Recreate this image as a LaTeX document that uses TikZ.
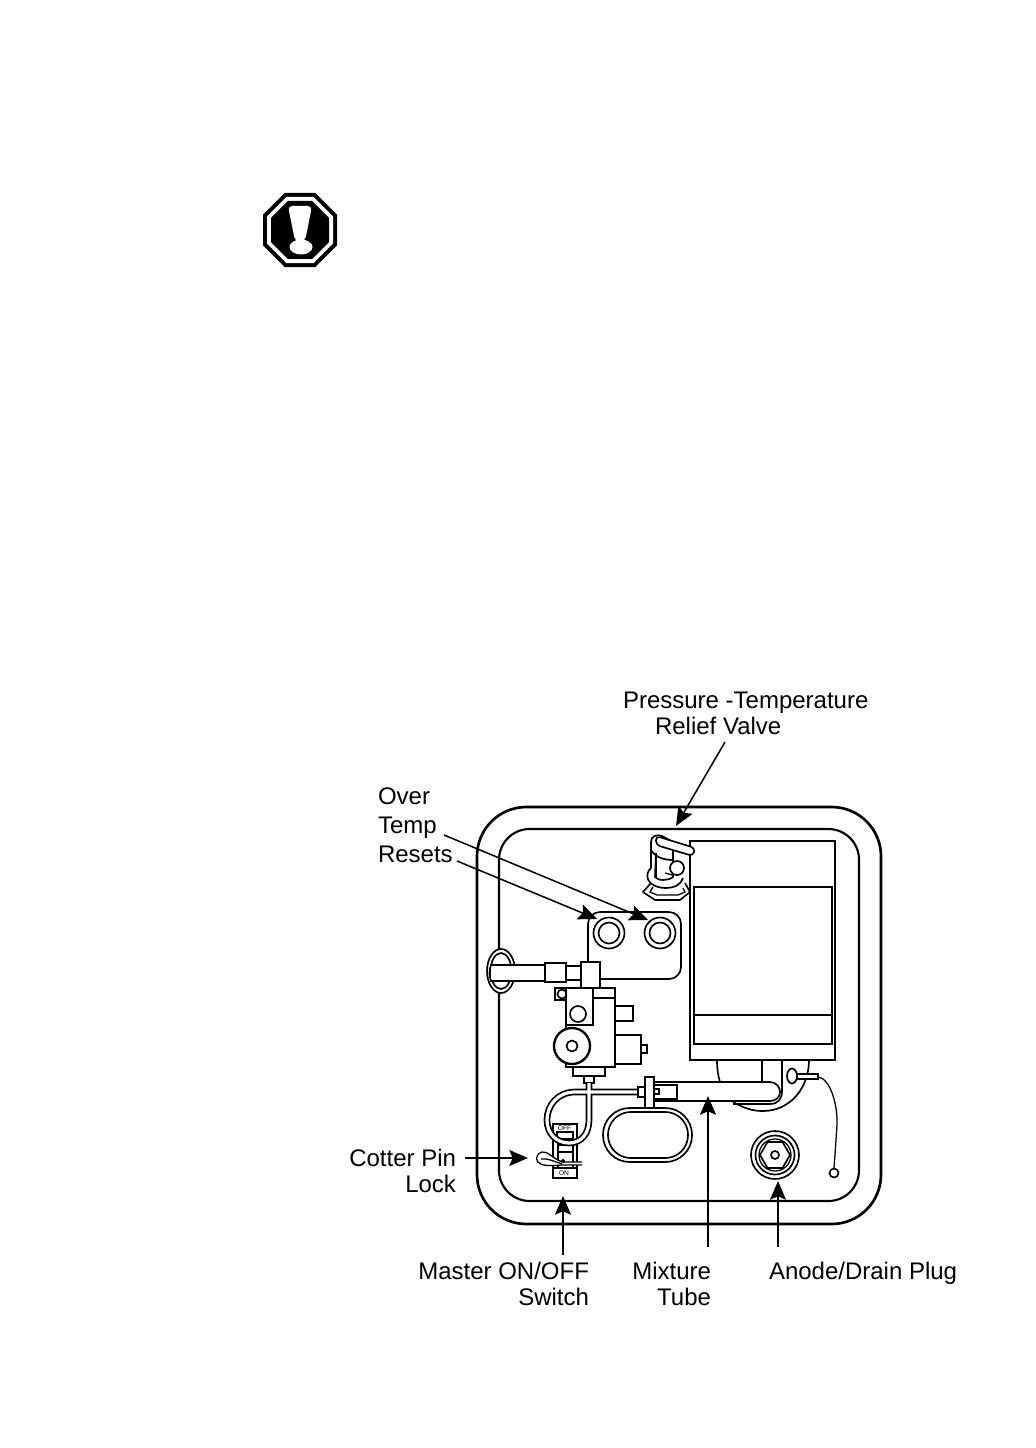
\documentclass[tikz,border=0pt]{standalone}
\usepackage{fontspec}
\setmainfont{Liberation Sans}
\usetikzlibrary{arrows.meta}
\tikzset{
  heavy/.style={line width=1.75pt,line join=miter},
  med/.style={line width=1.25pt},
  fine/.style={line width=0.95pt},
  callout/.style={line width=1.15pt,-{Stealth[length=14pt,width=12pt,inset=2.5pt]}},
  lbl/.style={inner sep=0pt,outer sep=0pt,font=\fontsize{18pt}{19.5pt}\selectfont},
  tiny/.style={inner sep=0pt,font=\fontsize{5pt}{5pt}\selectfont},
}
\begin{document}
\begin{tikzpicture}[x=0.75pt,y=-0.75pt]
\useasboundingbox (0,0) rectangle (1035,1448);
\fill[white] (0,0) rectangle (1035,1448);

% warning sign
\foreach \a/\c in {37/black,33/white,29/black}{
  \fill[\c] ({300-\a},{230-.414*\a}) -- ({300-.414*\a},{230-\a}) -- ({300+.414*\a},{230-\a}) -- ({300+\a},{230-.414*\a})
    -- ({300+\a},{230+.414*\a}) -- ({300+.414*\a},{230+\a}) -- ({300-.414*\a},{230+\a}) -- ({300-\a},{230+.414*\a}) -- cycle;
}
\fill[white,rounded corners=3pt] (288,206) -- (312,206) -- (305,241) -- (295,241) -- cycle;
\fill[white] (301,247) ellipse [x radius=11.5,y radius=7.5];

% housing
\draw[line width=2pt,rounded corners=37pt] (477,807) rectangle (881,1224);
\draw[line width=1.6pt,rounded corners=23pt] (499,829) rectangle (859,1201);

% oval hole and inlet tube
\fill[white] (501,971) ellipse [x radius=14,y radius=22];
\draw[med] (501,971) ellipse [x radius=14,y radius=22];
\draw[med] (501,971) ellipse [x radius=10.5,y radius=18];
\fill[white] (491,965) rectangle (545,981);
\draw[med] (545,965) -- (491,965) .. controls (489,970) and (489,976) .. (491,981) -- (545,981);

% reset panel
\draw[med,rounded corners=9pt] (588,962) -- (588,912) -- (681,912) -- (681,979) -- (600,979);
\foreach \x in {609,660}{
  \draw[med] (\x,933) circle [radius=15.5];
  \draw[med] (\x,933) circle [radius=10.5];
}
% fittings
\draw[heavy,fill=white] (545,963) rectangle (566,982);
\draw[med,fill=white] (566,966) rectangle (581,980);
\draw[heavy,fill=white] (581,962) rectangle (600,988);

% gas valve
\draw[heavy,fill=white] (555,988) rectangle (566,1000);
\draw[med] (562,994) circle [radius=4.5];
\draw[heavy,fill=white] (615,1006) rectangle (633,1021);
\draw[heavy,fill=white] (615,1035) rectangle (641,1064);
\draw[med,fill=white] (641,1045) rectangle (647,1053);
\draw[heavy,fill=white] (566,988) rectangle (615,1067);
\draw[heavy] (593,998) -- (615,998);
\draw[heavy] (566,1025) -- (593,1025) -- (593,988);
\draw[med] (578,1014) circle [radius=8];
\draw[heavy,fill=white] (572,1046) circle [radius=18];
\draw[med] (572,1046) circle [radius=5.5];
\draw[heavy,fill=white] (573,1067) rectangle (605,1076);
\draw[med,fill=white] (584,1076) rectangle (594,1083);

% tank
\draw[heavy] (690,841) rectangle (835,1060);
\draw[heavy] (694,887) rectangle (832,1044);
\draw[heavy] (694,1015) -- (832,1015);

% burner bowl and mixture tube
\draw[med] (717,1060) .. controls (717,1068) and (718,1076) .. (720,1082);
\draw[med] (733,1102) .. controls (745,1109) and (754,1111) .. (763,1111)
  .. controls (790,1111) and (809,1088) .. (809,1060);
\draw[med] (762,1060) -- (762,1082);
\draw[med] (782,1060) -- (782,1091) .. controls (782,1099) and (778,1104) .. (770,1104) -- (733,1104);
\draw[med] (654,1082) -- (770,1082) .. controls (776,1082) and (780,1087) .. (780,1092)
  .. controls (780,1097) and (776,1101) .. (770,1101) -- (654,1101);
\draw[med] (654,1085) rectangle (677,1099);
\draw[med] (654,1089) rectangle (659,1094);
\draw[med,fill=white] (645,1077) rectangle (654,1108);

% igniter and wire
\draw[med,fill=white] (792,1076) ellipse [x radius=5,y radius=7.5];
\draw[med,fill=white] (797,1074) rectangle (818,1079);
\draw[fine] (818,1077) .. controls (830,1078) and (838,1105) .. (837,1125) .. controls (836,1140) and (835,1155) .. (834,1168);
\draw[med] (834,1173) circle [radius=4.5];

% master switch
\draw[heavy] (553,1124) rectangle (577,1178);
\draw[med,fill=white] (557,1132) rectangle (573,1139);
\draw[fine] (558,1139) -- (558,1167);
\draw[fine] (573,1139) -- (573,1167);
\draw[fine] (558,1145) -- (573,1145);
\draw[fine] (558,1152) -- (573,1152);
\draw[med] (553,1168) -- (577,1168);
\node[tiny] (offtxt) at (564.5,1128) {OFF};
\node[tiny] (ontxt) at (564,1173.5) {ON};

% loop of pilot tube
\def\looptube{(638,1092) -- (575,1092) .. controls (558,1092) and (547,1105) .. (547,1120)
  .. controls (547,1134) and (557,1143) .. (569,1143) .. controls (581,1143) and (589,1134) .. (589,1120) -- (589,1083)}
\draw[line width=5pt] \looptube;
\draw[white,line width=2.4pt] \looptube;
\draw[med,fill=white] (638,1087) rectangle (645,1097);

% cotter pin
\draw[fine,fill=white] (582,1162) -- (562,1162) .. controls (552,1158) and (548,1151) .. (542,1152)
  .. controls (537,1153) and (535,1159) .. (538,1162) .. controls (541,1166) and (550,1166) .. (562,1165) -- (582,1165);
\draw[fine] (541,1159) .. controls (547,1158) and (553,1161) .. (562,1164);
\draw[fine,fill=black] (563,1161) circle [radius=1.5];

% big oval opening
\draw[med,rounded corners=20pt] (603,1108) rectangle (692,1162);
\draw[med,rounded corners=17pt] (608,1112) rectangle (688,1158);

% drain plug
\draw[med] (775,1155) circle [radius=24];
\draw[med] (775,1155) circle [radius=19.5];
\draw[fine] (775,1155) circle [radius=16];
\draw[med] (760,1155) -- (767.5,1142) -- (782.5,1142) -- (790,1155) -- (782.5,1168) -- (767.5,1168) -- cycle;
\draw[med] (775,1155) circle [radius=4];

% relief valve
\draw[med] (651,868) .. controls (644,874) and (646,887) .. (665,888) .. controls (674,888) and (681,885) .. (683,878);
\draw[med,fill=white] (656,853) -- (655,877) .. controls (658,881) and (668,881) .. (673,877) -- (673,853);
\draw[med,fill=white] (651,868) -- (651,842) .. controls (651,836) and (657,834) .. (662,836) -- (673,842)
   -- (673,860) .. controls (665,860) and (656,858) .. (651,850);
\draw[med,fill=white,rounded corners=3pt] (656,836) -- (695,848) -- (693,856) -- (656,845) -- cycle;
\draw[med] (656,853) -- (656,877);
\draw[med,fill=white] (677,868) circle [radius=7];
\draw[fine] (665,873) -- (672,875);
\draw[med,line join=round] (651,883) -- (643,892) -- (655,900) -- (680,900) -- (690,892) -- (685,883);
\draw[fine] (653,887) -- (650,892) -- (657,895) -- (678,895) -- (685,892) -- (683,888);

% labels
\node[lbl,anchor=north west,align=left] (prv) at (623,691.5) {Pressure -Temperature\\\hspace*{24pt}Relief Valve};
\node[lbl,anchor=north west,align=left,font=\fontsize{18pt}{21.75pt}\selectfont] (otr) at (378,787.5) {Over\\Temp\\Resets};
\node[lbl,anchor=north east,align=right] (cpl) at (456,1149) {Cotter Pin\\Lock};
\node[lbl,anchor=north east,align=right] (mas) at (589,1262) {Master ON/OFF\\Switch};
\node[lbl,anchor=north east,align=right] (mix) at (711,1262) {Mixture\\Tube};
\node[lbl,anchor=north west] (ano) at (769,1262) {Anode/Drain Plug};

% callouts
\coordinate (prvS) at (725,742);  \coordinate (prvT) at (676,826);
\coordinate (otS1) at (444,835);  \coordinate (otT1) at (648,920);
\coordinate (otS2) at (457,861);  \coordinate (otT2) at (597,919);
\coordinate (cpS) at (465,1158);  \coordinate (cpT) at (528,1158);
\coordinate (masS) at (563,1255); \coordinate (masT) at (563,1196);
\coordinate (mixS) at (708,1247); \coordinate (mixT) at (708,1096);
\coordinate (anoS) at (778,1247); \coordinate (anoT) at (778,1181);
\draw[callout] (prvS) -- (prvT);
\draw[callout] (otS1) -- (otT1);
\draw[callout] (otS2) -- (otT2);
\draw[callout] (cpS) -- (cpT);
\draw[callout] (masS) -- (masT);
\draw[callout] (mixS) -- (mixT);
\draw[callout] (anoS) -- (anoT);
\end{tikzpicture}
\end{document}
